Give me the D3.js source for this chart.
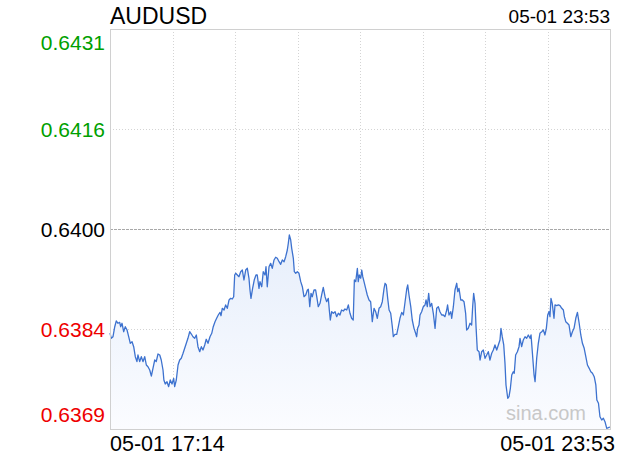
<!DOCTYPE html>
<html>
<head>
<meta charset="utf-8">
<script src="https://cdn.jsdelivr.net/npm/d3@7/dist/d3.min.js"></script>
<style>
  html, body { margin: 0; padding: 0; background: #fff; }
  svg { display: block; font-family: "Liberation Sans", Arial, sans-serif; }
</style>
</head>
<body>
<svg id="chart" width="620" height="460"></svg>
<script>
// ---- data ----
const symbol = "AUDUSD";
const lastTimeLabel = "05-01 23:53";
const startTimeLabel = "05-01 17:14";
const endTimeLabel = "05-01 23:53";
const sessionMinutes = 399; // 17:14 -> 23:53
const yTickValues = [0.643125, 0.6415625, 0.64, 0.6384375, 0.636875];
const yTickLabels = ["0.6431", "0.6416", "0.6400", "0.6384", "0.6369"];
const prevClose = 0.64;

// minutes after 17:14
const minutes = [
  0, 1.0, 2.4, 3.8, 5.0, 6.4, 7.7, 8.5, 9.6, 10.9, 12.2, 13.6, 14.9, 16.2, 17.6, 18.9, 20.2, 21.5, 22.3, 23.7,
  25.0, 26.3, 27.7, 29.0, 30.3, 31.7, 33.0, 34.3, 35.7, 36.9, 38.3, 39.7, 40.9, 42.3, 43.0, 44.1, 45.5, 46.8, 48.1, 49.5,
  50.8, 51.6, 52.9, 54.3, 55.6, 56.9, 58.3, 59.6, 60.9, 62.2, 63.6, 64.9, 66.2, 67.6, 68.9, 70.2, 71.6, 72.9, 74.2, 75.6,
  76.8, 78.2, 79.8, 81.2, 82.4, 83.8, 85.1, 86.4, 87.8, 88.6, 89.6, 91.0, 92.3, 93.6, 95.0, 96.3, 97.6, 98.7, 99.5, 100.3,
  101.6, 102.9, 104.3, 105.6, 106.9, 108.3, 109.6, 110.9, 111.7, 112.5, 113.8, 115.1, 116.5, 117.5, 118.9, 119.7, 121.1, 122.3, 123.7, 124.5,
  125.5, 126.9, 128.2, 129.5, 130.9, 132.2, 133.5, 134.9, 136.2, 137.5, 138.9, 140.2, 141.5, 142.3, 143.1, 144.2, 145.0, 146.3, 147.1, 148.2,
  149.5, 150.8, 152.2, 153.5, 154.8, 156.2, 157.5, 158.3, 159.4, 160.4, 161.4, 162.8, 164.1, 165.2, 166.2, 167.6, 168.9, 170.2, 171.6, 172.9,
  174.2, 175.0, 175.8, 176.9, 178.2, 179.6, 180.9, 182.2, 183.5, 184.8, 186.2, 187.5, 188.9, 190.2, 191.5, 192.8, 194.1, 195.0, 196.1, 197.4,
  198.1, 198.9, 200.1, 200.9, 201.7, 202.7, 204.0, 205.3, 206.7, 208.0, 209.3, 210.7, 212.0, 213.3, 214.7, 216.0, 217.3, 218.7, 219.5, 220.5,
  221.6, 222.7, 224.0, 225.3, 226.1, 227.4, 228.8, 230.1, 231.4, 232.8, 234.1, 235.4, 236.8, 237.6, 238.6, 240.0, 241.2, 242.6, 243.9, 244.7,
  245.5, 246.6, 247.4, 248.7, 250.0, 251.4, 252.2, 253.2, 254.3, 255.4, 256.7, 258.0, 259.4, 260.7, 262.0, 263.3, 264.7, 266.0, 267.3, 268.7,
  269.4, 270.5, 271.9, 272.7, 274.0, 275.3, 276.7, 277.5, 278.5, 279.9, 281.2, 282.5, 283.8, 284.6, 285.9, 287.3, 288.6, 289.4, 290.2, 291.3,
  292.1, 293.1, 294.5, 295.3, 296.6, 297.9, 299.3, 300.6, 301.9, 303.2, 304.6, 305.9, 307.2, 308.6, 309.9, 311.2, 312.0, 313.0, 314.2, 315.2,
  316.0, 317.4, 318.4, 319.5, 320.6, 321.8, 322.6, 323.7, 325.1, 326.4, 327.2, 328.5, 329.8, 331.2, 332.5, 333.8, 335.2, 336.0, 337.0, 338.4,
  339.2, 340.5, 341.8, 343.1, 344.5, 345.8, 347.1, 348.2, 349.3, 350.3, 351.1, 351.9, 352.9, 354.3, 355.1, 356.5, 357.8, 359.1, 360.5, 361.8,
  362.6, 363.7, 365.0, 366.3, 367.7, 369.0, 370.3, 371.7, 373.0, 374.4, 375.7, 377.0, 378.4, 379.7, 381.0, 382.4, 383.7, 385.0, 386.4, 387.7,
  388.5, 389.8, 391.0, 392.4, 393.7, 395.0, 396.4, 397.7, 399.0
];

const prices = [
  0.638375, 0.638292, 0.638317, 0.638473, 0.638563, 0.638527, 0.638542, 0.638473, 0.638527, 0.638395, 0.638473, 0.638422, 0.638317, 0.638214, 0.638239, 0.638161, 0.638005, 0.637927, 0.638031, 0.637927,
  0.638005, 0.637927, 0.638005, 0.637875, 0.637848, 0.637797, 0.637703, 0.637823, 0.637953, 0.637927, 0.638047, 0.638031, 0.637953, 0.637797, 0.637641, 0.637578, 0.637614, 0.637536, 0.637641, 0.637578,
  0.637667, 0.637536, 0.637641, 0.637875, 0.637953, 0.637980, 0.638058, 0.638136, 0.638214, 0.638292, 0.638395, 0.638359, 0.638317, 0.638292, 0.638344, 0.638161, 0.638083, 0.638161, 0.638109, 0.638188,
  0.638277, 0.638214, 0.638317, 0.638370, 0.638473, 0.638552, 0.638605, 0.638656, 0.638698, 0.638645, 0.638761, 0.638734, 0.638813, 0.638761, 0.638891, 0.638917, 0.638906, 0.638942, 0.639281, 0.639308,
  0.639281, 0.639255, 0.639333, 0.639359, 0.639203, 0.639359, 0.639386, 0.639230, 0.639047, 0.638917, 0.639073, 0.639203, 0.639281, 0.639281, 0.639073, 0.639177, 0.639098, 0.639333, 0.639281, 0.639411,
  0.639098, 0.639411, 0.639464, 0.639386, 0.639516, 0.639558, 0.639542, 0.639489, 0.639448, 0.639516, 0.639489, 0.639567, 0.639672, 0.639777, 0.639906, 0.639828, 0.639698, 0.639542, 0.639333, 0.639308,
  0.639333, 0.639308, 0.639177, 0.639098, 0.638942, 0.638969, 0.639047, 0.639058, 0.638786, 0.638995, 0.638942, 0.639047, 0.639047, 0.638917, 0.638786, 0.638839, 0.638969, 0.639089, 0.638942, 0.638864,
  0.638917, 0.638734, 0.638578, 0.638708, 0.638683, 0.638708, 0.638630, 0.638683, 0.638656, 0.638734, 0.638719, 0.638750, 0.638734, 0.638813, 0.638683, 0.638605, 0.638578, 0.639203, 0.639177, 0.639386,
  0.639177, 0.639281, 0.639230, 0.639359, 0.639255, 0.639177, 0.639073, 0.638969, 0.638891, 0.638864, 0.638552, 0.638761, 0.638708, 0.638605, 0.638761, 0.638786, 0.638864, 0.639073, 0.639152, 0.639125,
  0.638917, 0.638734, 0.638683, 0.638473, 0.638317, 0.638355, 0.638355, 0.638473, 0.638605, 0.638698, 0.638656, 0.638852, 0.639063, 0.639125, 0.638969, 0.638786, 0.638578, 0.638448, 0.638370, 0.638317,
  0.638448, 0.638500, 0.638656, 0.638708, 0.638786, 0.638813, 0.638891, 0.638786, 0.638995, 0.638786, 0.638839, 0.638683, 0.638448, 0.638761, 0.638786, 0.638708, 0.638656, 0.638656, 0.638630, 0.638734,
  0.638813, 0.638656, 0.638708, 0.638605, 0.638786, 0.639047, 0.639152, 0.639020, 0.639073, 0.638891, 0.638891, 0.638864, 0.638683, 0.638422, 0.638448, 0.638527, 0.638500, 0.638786, 0.638995, 0.638839,
  0.638473, 0.638109, 0.638083, 0.637953, 0.638083, 0.638109, 0.637980, 0.638031, 0.638083, 0.637953, 0.638058, 0.638109, 0.638188, 0.638109, 0.638188, 0.638266, 0.638448, 0.638317, 0.638188, 0.637902,
  0.637563, 0.637355, 0.637380, 0.637511, 0.637719, 0.637770, 0.637745, 0.638031, 0.638083, 0.638161, 0.638292, 0.638161, 0.638266, 0.638317, 0.638292, 0.638344, 0.638292, 0.638344, 0.638083, 0.637719,
  0.637614, 0.637980, 0.638214, 0.638370, 0.638395, 0.638422, 0.638344, 0.638448, 0.638656, 0.638708, 0.638630, 0.638917, 0.638839, 0.638605, 0.638813, 0.638802, 0.638813, 0.638802, 0.638761, 0.638734,
  0.638630, 0.638552, 0.638527, 0.638500, 0.638317, 0.638395, 0.638448, 0.638605, 0.638698, 0.638527, 0.638344, 0.638214, 0.638136, 0.638005, 0.637875, 0.637823, 0.637770, 0.637745, 0.637692, 0.637563,
  0.637328, 0.637277, 0.637067, 0.637016, 0.637042, 0.636989, 0.636886, 0.636895, 0.636906
];

// ---- layout ----
const W = 620, H = 460;
const plot = { left: 110, right: 610, top: 29, bottom: 429 };

const svg = d3.select("#chart");
svg.append("rect").attr("width", W).attr("height", H).attr("fill", "#fff");

const x = d3.scaleLinear().domain([0, sessionMinutes]).range([plot.left, plot.right]);
const y = d3.scaleLinear().domain([yTickValues[yTickValues.length - 1], yTickValues[0]]).range([plot.bottom, plot.top]);

const data = minutes.map((m, i) => ({ m, p: prices[i] }));

// gradient
const defs = svg.append("defs");
const grad = defs.append("linearGradient").attr("id", "areaGrad")
  .attr("gradientUnits", "userSpaceOnUse")
  .attr("x1", 0).attr("x2", 0)
  .attr("y1", y(d3.max(prices))).attr("y2", plot.bottom);
grad.append("stop").attr("offset", "0%").attr("stop-color", "#e6eefb");
grad.append("stop").attr("offset", "100%").attr("stop-color", "#fbfcff");

// vertical grid
const xGrid = d3.range(1, 8).map(i => sessionMinutes * i / 8);
svg.append("g").selectAll("line").data(xGrid).join("line")
  .attr("x1", d => Math.round(x(d)) + 0.5).attr("x2", d => Math.round(x(d)) + 0.5)
  .attr("y1", plot.top).attr("y2", plot.bottom)
  .attr("stroke", "#d4d4d4").attr("stroke-dasharray", "1,2").attr("stroke-width", 1);

// horizontal grid
svg.append("g").selectAll("line").data(yTickValues.slice(1, -1)).join("line")
  .attr("x1", plot.left).attr("x2", plot.right)
  .attr("y1", d => Math.round(y(d)) + 0.5).attr("y2", d => Math.round(y(d)) + 0.5)
  .attr("stroke", d => d === prevClose ? "#a8a8a8" : "#d4d4d4")
  .attr("stroke-dasharray", d => d === prevClose ? "3,1" : "1,2")
  .attr("stroke-width", 1);

// area + line
const area = d3.area().x(d => x(d.m)).y0(plot.bottom).y1(d => y(d.p));
const line = d3.line().x(d => x(d.m)).y(d => y(d.p));
svg.append("path").datum(data).attr("d", area).attr("fill", "url(#areaGrad)");

// watermark
svg.append("text").attr("x", 586).attr("y", 420).attr("text-anchor", "end")
  .attr("font-size", 20).attr("fill", "#c8c8c8").text("sina.com");

svg.append("path").datum(data).attr("d", line)
  .attr("fill", "none").attr("stroke", "#3d72cf").attr("stroke-width", 1.3)
  .attr("stroke-linejoin", "round");

// frame
svg.append("rect")
  .attr("x", plot.left + 0.5).attr("y", plot.top + 0.5)
  .attr("width", plot.right - plot.left).attr("height", plot.bottom - plot.top)
  .attr("fill", "none").attr("stroke", "#d0d0d0");

// y labels
const yLab = svg.append("g").attr("font-size", 21).attr("text-anchor", "end");
yTickValues.forEach((v, i) => {
  let yy = y(v) + 7.5;
  if (i === 0) yy = y(v) + 21;
  if (i === yTickValues.length - 1) yy = y(v) - 7;
  yLab.append("text")
    .attr("x", 105).attr("y", yy)
    .attr("fill", v > prevClose ? "#00a000" : (v < prevClose ? "#ee0000" : "#000"))
    .text(yTickLabels[i]);
});

// titles
svg.append("text").attr("x", 110).attr("y", 24).attr("font-size", 23).attr("fill", "#000").text(symbol);
svg.append("text").attr("x", 610).attr("y", 23).attr("font-size", 19).attr("text-anchor", "end").attr("fill", "#000").text(lastTimeLabel);

// bottom labels
svg.append("text").attr("x", 110).attr("y", 451).attr("font-size", 21.5).attr("fill", "#000").text(startTimeLabel);
svg.append("text").attr("x", 615).attr("y", 451).attr("font-size", 21.5).attr("text-anchor", "end").attr("fill", "#000").text(endTimeLabel);
</script>
</body>
</html>
